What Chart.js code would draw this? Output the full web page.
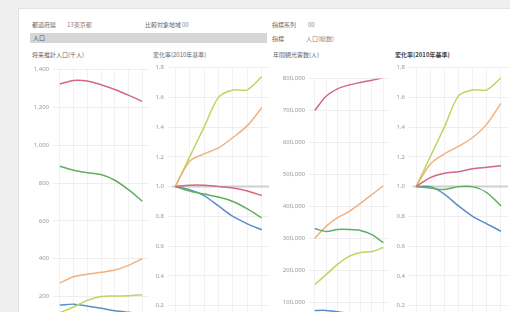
<!DOCTYPE html>
<html lang="ja">
<head>
<meta charset="utf-8">
<script src="https://cdn.jsdelivr.net/npm/chart.js@4"></script>
<style>
  html, body { margin: 0; padding: 0; width: 510px; height: 312px; overflow: hidden; background: #efefef; font-family: "Noto Sans CJK JP", "Noto Sans", sans-serif; }
  #panel { position: absolute; left: 18px; top: 8px; width: 492px; height: 320px; background: #fff; border-left: 1px solid #e2e2e2; border-top: 1px solid #e2e2e2; }
  .t { position: absolute; font-size: 6px; color: #666; white-space: nowrap; line-height: 8px; }
  .v { color: #888; }
  #bar { position: absolute; left: 30px; top: 33px; width: 237px; height: 10px; background: #d6d6d6; }
  .box { position: absolute; }
</style>
</head>
<body>
<div id="panel"></div>
<div class="t" style="left:32px;top:21px">都道府県</div>
<div class="t v" style="left:67px;top:21px">13東京都</div>
<div class="t" style="left:145px;top:21px">比較対象地域</div>
<div class="t v" style="left:182px;top:21px">00</div>
<div class="t" style="left:272px;top:21px">指標系列</div>
<div class="t v" style="left:308px;top:21px">00</div>
<div id="bar"></div>
<div class="t" style="left:33px;top:34px;color:#555">人口</div>
<div class="t" style="left:272px;top:35px">指標</div>
<div class="t v" style="left:306px;top:35px">人口(総数)</div>
<div class="t" style="left:32px;top:51px">将来推計人口(千人)</div>
<div class="t" style="left:153px;top:51px">変化率(2010年基準)</div>
<div class="t" style="left:273px;top:51px">年間観光客数(人)</div>
<div class="t" style="left:395px;top:51px;font-weight:bold;color:#444">変化率(2010年基準)</div>

<div class="box" style="left:28px;top:62px;width:121px;height:280px"><canvas id="c1"></canvas></div>
<div class="box" style="left:148px;top:60px;width:121px;height:283px"><canvas id="c2"></canvas></div>
<div class="box" style="left:272px;top:71px;width:117px;height:271px"><canvas id="c3"></canvas></div>
<div class="box" style="left:389px;top:60px;width:119px;height:283px"><canvas id="c4"></canvas></div>

<script>
// 年次
const years = ['2010', '2015', '2020', '2025', '2030', '2035', '2040'];
const seriesNames = ['系列A', '系列B', '系列C', '系列D', '系列E'];
const colors = ['#d2697f', '#62ad62', '#f4b07c', '#bcd65e', '#5b8ec8'];

// 人口(千人)
const pop1 = [1324, 1343, 1340, 1320, 1295, 1265, 1232];
const pop2 = [889, 868, 855, 845, 815, 765, 705];
const pop3 = [272, 305, 318, 328, 340, 365, 400];
const pop4 = [115, 145, 180, 200, 203, 204, 210];
const pop5 = [155, 160, 150, 138, 125, 117, 110];

// 変化率(2010年基準)
const popRate1 = [1.0, 1.01, 1.01, 1.0, 0.99, 0.97, 0.94];
const popRate2 = [1.0, 0.97, 0.95, 0.93, 0.9, 0.85, 0.79];
const popRate3 = [1.0, 1.17, 1.22, 1.26, 1.33, 1.41, 1.53];
const popRate4 = [1.0, 1.2, 1.4, 1.6, 1.65, 1.65, 1.74];
const popRate5 = [1.0, 0.98, 0.94, 0.87, 0.8, 0.75, 0.71];

// 観光客数(人)
const vis1 = [700000, 745000, 768000, 780000, 788000, 795000, 803000];
const vis2 = [331000, 322000, 328000, 328000, 325000, 312000, 287000];
const vis3 = [300000, 338000, 365000, 384000, 410000, 437000, 465000];
const vis4 = [156000, 187000, 219000, 244000, 256000, 259000, 272000];
const vis5 = [75000, 75000, 71000, 65000, 59000, 56000, 53000];

// 変化率(2010年基準)
const visRate1 = [1.0, 1.06, 1.09, 1.1, 1.12, 1.13, 1.14];
const visRate2 = [1.0, 0.99, 0.98, 1.0, 1.0, 0.96, 0.87];
const visRate3 = [1.0, 1.15, 1.22, 1.27, 1.33, 1.42, 1.56];
const visRate4 = [1.0, 1.2, 1.4, 1.61, 1.65, 1.65, 1.73];
const visRate5 = [1.0, 1.0, 0.95, 0.87, 0.8, 0.75, 0.7];

// 基準線(1.0)
const baseLine = {
    id: 'baseLine',
    beforeDatasetsDraw(chart, args, opts) {
        if (!opts.value) return;
        const y = chart.scales.y.getPixelForValue(opts.value);
        const ctx = chart.ctx;
        ctx.save();
        ctx.strokeStyle = '#cfcfcf';
        ctx.lineWidth = 2;
        ctx.beginPath();
        ctx.moveTo(chart.chartArea.left + 4, y);
        ctx.lineTo(chart.chartArea.right, y);
        ctx.stroke();
        ctx.restore();
    }
};

function makeChart(id, series, yOpts, axisWidth, base) {
    const ctx = document.getElementById(id).getContext('2d');
    return new Chart(ctx, {
        type: 'line',
        data: {
            labels: years,
            datasets: series.map((s, i) => ({
                label: seriesNames[i],
                data: s,
                borderColor: colors[i],
                backgroundColor: colors[i],
                borderWidth: 1.5,
                pointRadius: 0,
                tension: 0.3
            }))
        },
        options: {
            responsive: true,
            maintainAspectRatio: false,
            animation: false,
            layout: { padding: 0 },
            plugins: {
                legend: { display: false },
                tooltip: { enabled: false },
                baseLine: { value: base }
            },
            scales: {
                x: {
                    offset: true,
                    ticks: { display: false },
                    border: { display: false },
                    grid: { color: '#f1f1f1', drawTicks: false, offset: false }
                },
                y: Object.assign({
                    border: { display: false },
                    grid: { color: '#eeeeee', drawTicks: false },
                    afterFit: s => { s.width = axisWidth; }
                }, yOpts)
            }
        },
        plugins: [baseLine]
    });
}

const tickFont = { family: 'Noto Sans, sans-serif', size: 6 };
const fmt = v => Number(v).toLocaleString('en-US');
const fmt1 = v => Number(v).toFixed(1);

makeChart('c1', [pop1, pop2, pop3, pop4, pop5], {
    min: 0, max: 1400,
    ticks: { stepSize: 200, autoSkip: false, font: tickFont, color: '#999', padding: 4, callback: fmt }
}, 25, null);

makeChart('c2', [popRate1, popRate2, popRate3, popRate4, popRate5], {
    min: 0, max: 1.8,
    ticks: { stepSize: 0.2, autoSkip: false, font: tickFont, color: '#999', padding: 4, callback: fmt1 }
}, 20, 1);

makeChart('c3', [vis1, vis2, vis3, vis4, vis5], {
    min: 0, max: 800000,
    ticks: { stepSize: 100000, autoSkip: false, font: tickFont, color: '#999', padding: 4, callback: fmt }
}, 37, null);

makeChart('c4', [visRate1, visRate2, visRate3, visRate4, visRate5], {
    min: 0, max: 1.8,
    ticks: { stepSize: 0.2, autoSkip: false, font: tickFont, color: '#999', padding: 4, callback: fmt1 }
}, 20, 1);
</script>
</body>
</html>
